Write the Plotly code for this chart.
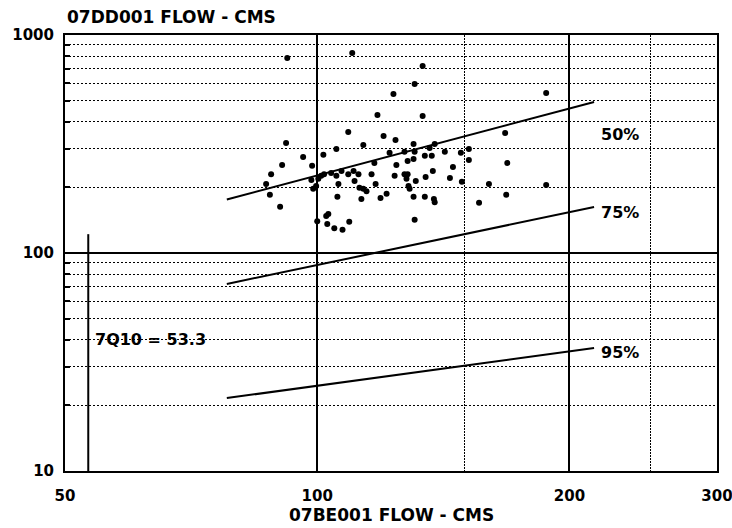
import math
import plotly.graph_objects as go

# ---- data ----
flow_x = [92.1, 110.1, 133.6, 130.7, 123.3, 133.6, 118.0, 108.9, 120.0, 124.0,
          91.8, 105.4, 113.5, 130.3, 138.1, 142.0, 148.4, 151.7, 151.7, 96.2,
          90.8, 98.6, 101.7, 88.1, 124.3, 128.2, 130.3, 134.4, 137.0, 145.2,
          137.4, 134.7, 144.0, 127.1, 122.0, 127.1, 130.7, 136.2, 117.0, 116.1,
          123.7, 127.8, 131.1, 148.8, 117.4, 128.5, 128.9, 121.0, 119.0, 130.3,
          134.4, 137.8, 138.1, 160.3, 156.0, 130.7, 187.6, 167.6, 168.6, 187.6,
          168.1, 86.9, 87.8, 90.3, 98.4, 98.9, 99.7, 100.3, 101.1, 101.9,
          103.9, 105.4, 106.0, 105.7, 106.9, 108.9, 110.5, 110.8, 112.0, 112.3,
          113.5, 114.5, 112.9, 100.0, 102.5, 103.1, 102.8, 104.8, 107.2, 109.2,
          128.2]
flow_y = [784, 827, 721, 596, 536, 425, 430, 359, 344, 330,
          320, 300, 313, 316, 316, 291, 288, 300, 267, 276,
          253, 251, 282, 230, 253, 264, 270, 279, 279, 248,
          238, 223, 221, 230, 288, 291, 291, 303, 259, 230,
          226, 219, 214, 212, 207, 203, 197, 187, 179, 181,
          181, 177, 171, 207, 170, 142, 542, 355, 259, 205,
          185, 207, 185, 163, 216, 197, 203, 219, 226, 230,
          233, 226, 207, 181, 238, 230, 238, 214, 230, 199,
          197, 192, 177, 140, 148, 151, 136, 130, 128, 139,
          230]

line_x = [78, 214]
p50_y = [176, 493]
p75_y = [72.1, 162.6]
p95_y = [21.6, 36.7]
line_labels = ["50%", "75%", "95%"]
label_x = 230
label_y = [351, 152.6, 34.8]

q7_10 = 53.3
q7_10_y = [10, 122]
q7_10_text = "7Q10 = 53.3"
q7_10_label_x = 54
q7_10_label_y = 40

x_ticks = [50, 100, 200, 300]
y_ticks = [10, 100, 1000]
x_minor = [150, 250]
y_minor = [20, 30, 40, 50, 60, 70, 80, 90, 200, 300, 400, 500, 600, 700, 800, 900]

FONT = "DejaVu Sans"
BOLD = dict(family=FONT, size=16, color="black", weight="bold")
TITLE = dict(family=FONT, size=17, color="black", weight="bold")

fig = go.Figure()
for ys in (p50_y, p75_y, p95_y):
    fig.add_trace(go.Scatter(x=line_x, y=ys, mode="lines",
                             line=dict(color="black", width=2), showlegend=False,
                             hoverinfo="skip"))
fig.add_trace(go.Scatter(x=[q7_10, q7_10], y=q7_10_y, mode="lines",
                         line=dict(color="black", width=2), showlegend=False,
                         hoverinfo="skip"))
fig.add_trace(go.Scatter(x=flow_x, y=flow_y, mode="markers",
                         marker=dict(color="black", size=6), showlegend=False))

# annotations on log axes take log10 coordinates
for t, yv in zip(line_labels, label_y):
    fig.add_annotation(x=math.log10(label_x), y=math.log10(yv), xref="x", yref="y",
                       text=t, showarrow=False, xanchor="center", yanchor="middle",
                       font=BOLD)
fig.add_annotation(x=math.log10(q7_10_label_x), y=math.log10(q7_10_label_y),
                   xref="x", yref="y", text=q7_10_text, showarrow=False,
                   xanchor="left", yanchor="middle", font=BOLD)

fig.add_annotation(x=0, y=1.0413, xref="paper", yref="paper", text="07DD001 FLOW - CMS",
                   showarrow=False, xanchor="left", yanchor="middle", font=TITLE)
fig.add_annotation(x=0.5, y=-0.101, xref="paper", yref="paper", text="07BE001 FLOW - CMS",
                   showarrow=False, xanchor="center", yanchor="middle", font=TITLE)

fig.update_xaxes(type="log", range=[math.log10(50), math.log10(300)],
                 tickvals=x_ticks, ticktext=[str(v) for v in x_ticks],
                 ticks="", ticklabelstandoff=10, ticklabeloverflow="allow",
                 automargin=False,
                 showgrid=True, gridcolor="black", gridwidth=1.5,
                 showline=True, linecolor="black", linewidth=2, mirror=True,
                 zeroline=False,
                 tickfont=dict(family=FONT, size=15, color="black", weight="bold"),
                 minor=dict(tickvals=x_minor, showgrid=True, gridcolor="black",
                            griddash="2px,1px", gridwidth=1, ticks=""))
fig.update_yaxes(type="log", range=[1, 3],
                 tickvals=y_ticks, ticktext=[str(v) for v in y_ticks],
                 ticks="", ticklabelstandoff=6, ticklabeloverflow="allow",
                 automargin=False,
                 showgrid=True, gridcolor="black", gridwidth=2,
                 showline=True, linecolor="black", linewidth=2, mirror=True,
                 zeroline=False,
                 tickfont=dict(family=FONT, size=15, color="black", weight="bold"),
                 minor=dict(tickvals=y_minor, showgrid=True, gridcolor="black",
                            griddash="2px,2px", gridwidth=1, ticks="inside",
                            ticklen=5, tickcolor="black", tickwidth=2))

fig.update_layout(width=732, height=528,
                  margin=dict(l=65, r=15, t=35, b=57, autoexpand=False),
                  paper_bgcolor="white", plot_bgcolor="white",
                  showlegend=False)

fig.write_html("out.html", config={"displayModeBar": False},
               post_script="document.body.style.margin='0';document.body.style.overflow='hidden';")
